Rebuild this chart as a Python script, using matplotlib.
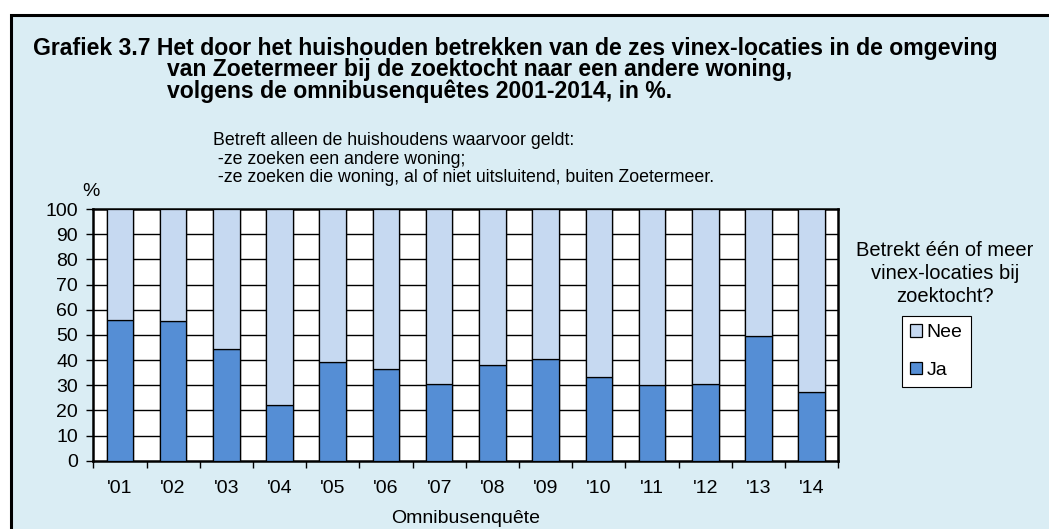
import matplotlib.pyplot as plt
from matplotlib.patches import Rectangle, Patch
import numpy as np

plt.rcParams['font.family'] = ['Liberation Sans', 'DejaVu Sans']

years = ["'01", "'02", "'03", "'04", "'05", "'06", "'07",
         "'08", "'09", "'10", "'11", "'12", "'13", "'14"]
ja = [56.0, 55.5, 44.4, 22.3, 39.3, 36.6, 30.3,
      38.1, 40.5, 33.4, 30.1, 30.6, 49.7, 27.2]
nee = [100 - v for v in ja]

title_1 = "Grafiek 3.7 Het door het huishouden betrekken van de zes vinex-locaties in de omgeving"
title_2 = "van Zoetermeer bij de zoektocht naar een andere woning,\nvolgens de omnibusenquêtes 2001-2014, in %."
subtitle = ("Betreft alleen de huishoudens waarvoor geldt:\n"
            " -ze zoeken een andere woning;\n"
            " -ze zoeken die woning, al of niet uitsluitend, buiten Zoetermeer.")
legend_title = "Betrekt één of meer\nvinex-locaties bij\nzoektocht?"

bg = '#DAEDF4'
c_ja = '#558ED5'
c_nee = '#C6D9F1'

W, H = 1049, 529
fig = plt.figure(figsize=(W / 100, H / 100), dpi=100, facecolor='white')

# framed light-blue panel
panel = Rectangle((10.5 / W, -0.05), 1.1, 1 - 14.5 / H + 0.05, transform=fig.transFigure,
                  facecolor=bg, edgecolor='black', linewidth=2.2, zorder=-5)
fig.patches.append(panel)

ax = fig.add_axes([93.3 / W, 1 - 460.7 / H, 745 / W, 251.7 / H])
ax.set_facecolor('white')

x = np.arange(len(years))
ax.bar(x, ja, width=0.5, color=c_ja, edgecolor='black', linewidth=0.9, zorder=3)
ax.bar(x, nee, width=0.5, bottom=ja, color=c_nee, edgecolor='black', linewidth=0.9, zorder=3)

ax.set_xlim(-0.5, len(years) - 0.5)
ax.set_ylim(0, 100)
ax.set_yticks(range(0, 101, 10))
ax.set_xticks(x)
ax.set_xticklabels(years)
ax.set_xticks(np.arange(-0.5, len(years), 1.0), minor=True)
ax.tick_params(axis='x', which='major', length=0, pad=14, labelsize=14)
ax.tick_params(axis='x', which='minor', length=5, width=1, direction='out')
ax.tick_params(axis='y', length=5, width=1, direction='out', labelsize=14, pad=6)

for v in range(10, 100, 10):
    ax.axhline(v, color='black', linewidth=1, zorder=1)
for v in np.arange(-0.25, len(years), 0.5):
    ax.axvline(v, color='black', linewidth=1, zorder=1)

for s in ax.spines.values():
    s.set_linewidth(1.8)
    s.set_color('black')

ax.set_xlabel('Omnibusenquête', fontsize=14, labelpad=9)

fig.text(33 / W, 1 - 37 / H, title_1, fontsize=16.6, fontweight='bold', va='top', ha='left')
fig.text(167 / W, 1 - 58 / H, title_2, fontsize=16.6, fontweight='bold', va='top', ha='left',
         linespacing=0.92)
fig.text(213 / W, 1 - 132 / H, subtitle, fontsize=12.8, va='top', ha='left', linespacing=1.12)
fig.text(82 / W, 1 - 191 / H, '%', fontsize=14, va='center', ha='left')
fig.text(945 / W, 1 - 241 / H, legend_title, fontsize=14.5, va='top', ha='center',
         linespacing=1.25)

handles = [Patch(facecolor=c_nee, edgecolor='black', linewidth=0.9, label='Nee'),
           Patch(facecolor=c_ja, edgecolor='black', linewidth=0.9, label='Ja')]
leg = fig.legend(handles=handles, loc='upper left', bbox_to_anchor=(902 / W, 1 - 316 / H),
                 fontsize=14, frameon=True, fancybox=False, framealpha=1,
                 handlelength=0.6, handleheight=0.6, handletextpad=0.25,
                 labelspacing=1.05, borderpad=0.42, borderaxespad=0)
leg.get_frame().set_edgecolor('black')
leg.get_frame().set_linewidth(0.8)

fig.savefig('out.png', dpi=100, facecolor='white')
